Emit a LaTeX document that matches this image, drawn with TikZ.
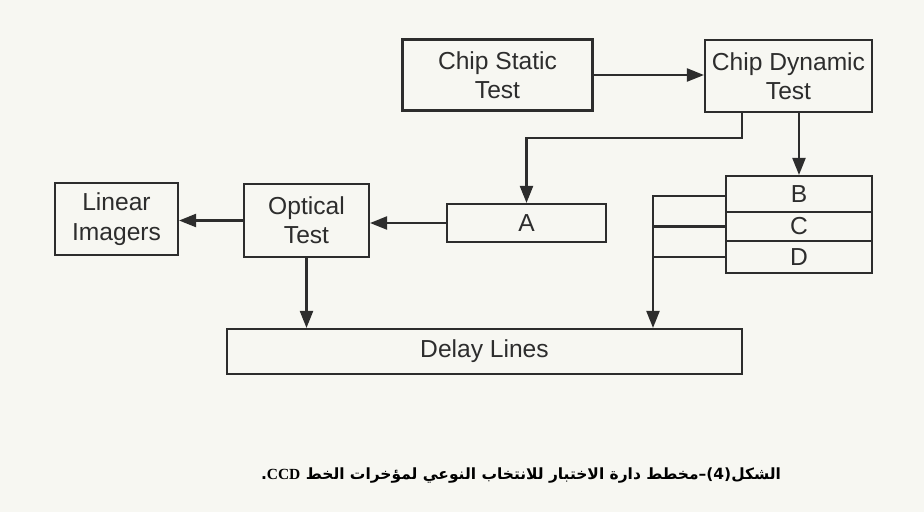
\documentclass[tikz,border=0pt]{standalone}
\usepackage{fontspec}
\setmainfont{Liberation Sans}
\newfontfamily\arabicfont[Script=Arabic]{DejaVu Sans}
\newfontfamily\capserif{Liberation Serif}
\TeXXeTstate=1
\usetikzlibrary{arrows.meta}
\definecolor{paper}{RGB}{247,247,242}
\definecolor{ink}{RGB}{45,45,45}
\begin{document}
\begin{tikzpicture}[x=0.02cm, y=-0.02cm,
  blk/.style={draw=ink, line width=1.2pt, text=ink, align=center, inner sep=0pt, font=\fontsize{14}{16.7}\selectfont},
  wire/.style={draw=ink, line width=1.2pt},
  arr/.style={wire, -{Triangle[length=0.34cm, width=0.26cm]}}]
\fill[paper] (0,0) rectangle (924,512);
\useasboundingbox (0,0) rectangle (924,512);
\node[blk, minimum width=3.8cm, minimum height=1.42cm] (cst) at (497.5,75) {Chip Static\\Test};
\node[blk, minimum width=3.34cm, minimum height=1.44cm] (cdt) at (788.5,76) {Chip Dynamic\\Test};
\node[blk, minimum width=3.18cm, minimum height=0.76cm] (a) at (526.5,223) {A};
\node[blk, minimum width=2.92cm, minimum height=0.72cm] (b) at (799,194) {B};
\node[blk, minimum width=2.92cm, minimum height=0.58cm] (c) at (799,226.5) {C};
\node[blk, minimum width=2.92cm, minimum height=0.64cm] (d) at (799,257) {D};
\node[blk, minimum width=2.5cm, minimum height=1.46cm] (opt) at (306.5,220.5) {Optical\\Test};
\node[blk, minimum width=2.46cm, minimum height=1.44cm] (lin) at (116.5,219) {Linear\\Imagers};
\node[blk, minimum width=10.3cm, minimum height=0.9cm] (dl) at (484.5,351.5) {Delay Lines};
\coordinate (tap) at (742,138);
\coordinate (bus) at (653,196);
\draw[arr] (cst.east) -- (cst.east -| cdt.west);
\draw[arr] (b.north |- cdt.south) -- (b.north);
\draw[arr] (tap |- cdt.south) -- (tap) -| (a.north);
\draw[arr] (a.west) -- (a.west -| opt.east);
\draw[arr] (opt.west) -- (opt.west -| lin.east);
\draw[arr] (opt.south) -- (opt.south |- dl.north);
\draw[arr] (b.west |- bus) -- (bus) -- (bus |- dl.north);
\draw[wire] (c.west) -- (c.west -| bus);
\draw[wire] (d.west) -- (d.west -| bus);
\node[text=black, font=\fontsize{8.8}{11}\selectfont] (cap) at (521,476) {\arabicfont\bfseries\beginR الشكل(4)–مخطط دارة الاختبار للانتخاب النوعي لمؤخرات الخط \beginL{\capserif\bfseries CCD}\endL.\endR};
\end{tikzpicture}
\end{document}
